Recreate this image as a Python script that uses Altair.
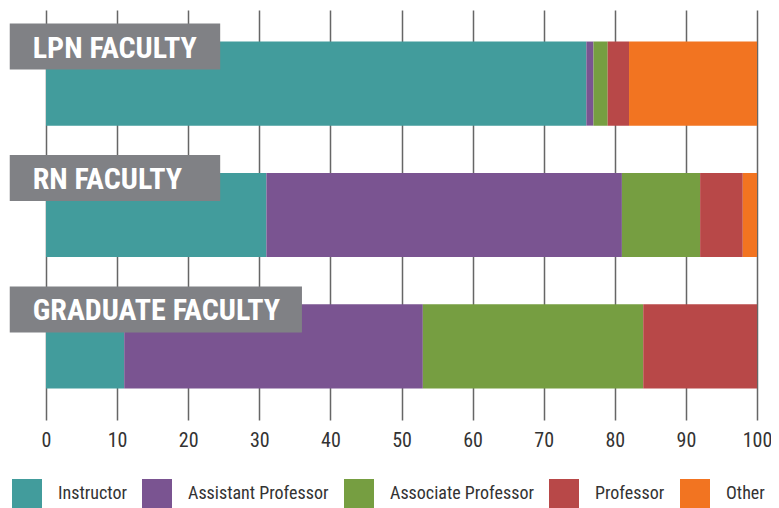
import altair as alt
import pandas as pd

groups = ["LPN FACULTY", "RN FACULTY", "GRADUATE FACULTY"]
ranks = ["Instructor", "Assistant Professor", "Associate Professor", "Professor", "Other"]
instructor = [76, 31, 11]
assistant = [1, 50, 42]
associate = [2, 11, 31]
professor = [3, 6, 16]
other = [18, 2, 0]
colors = ["#429C9C", "#7A5491", "#769E41", "#B84848", "#F27421"]
label_start = [-5.1, -5.1, -5.1]
label_end = [24.5, 24.5, 36.0]
ticks = [0, 10, 20, 30, 40, 50, 60, 70, 80, 90, 100]

series = [instructor, assistant, associate, professor, other]
rows = []
for gi, g in enumerate(groups):
    for ri, r in enumerate(ranks):
        rows.append({"group": g, "rank": r, "value": series[ri][gi], "order": ri})
df = pd.DataFrame(rows)
lab = pd.DataFrame({"group": groups, "x0": label_start, "x1": label_end})

FONT = "Roboto Condensed, Liberation Sans Narrow, DejaVu Sans Condensed, Roboto"

yenc = alt.Y("group:N", sort=groups, axis=None,
             scale=alt.Scale(paddingInner=0.36, paddingOuter=0.24))

bars = alt.Chart(df).mark_bar().encode(
    x=alt.X("value:Q", stack="zero",
            scale=alt.Scale(domain=[0, 100], nice=False),
            axis=alt.Axis(values=ticks, title=None, grid=True, domain=False, ticks=False,
                          labelFont=FONT, labelFontSize=20, labelColor="#333333",
                          labelFlush=False, labelPadding=10,
                          gridColor="#666666", gridWidth=1.5)),
    y=yenc,
    color=alt.Color("rank:N", sort=ranks,
                    scale=alt.Scale(domain=ranks, range=colors),
                    legend=alt.Legend(title=None, orient="none", legendX=-34, legendY=469,
                                      direction="horizontal", columns=5,
                                      symbolType="square", symbolSize=900,
                                      symbolStrokeWidth=0, symbolOpacity=1,
                                      labelFont=FONT, labelFontSize=18,
                                      labelColor="#333333", labelOffset=16,
                                      columnPadding=15, labelLimit=300)),
    order=alt.Order("order:Q"),
)

boxes = alt.Chart(lab).mark_bar(height=46, yOffset=-37, color="#808185").encode(
    x="x0:Q", x2="x1:Q", y=yenc,
)

texts = alt.Chart(lab).mark_text(align="left", baseline="middle", dx=23, yOffset=-35,
                                 font=FONT, fontSize=30, fontWeight="bold",
                                 color="white").encode(
    x="x0:Q", y=yenc, text="group:N",
)

chart = alt.layer(bars, boxes, texts).properties(
    width=711, height=410,
    autosize=alt.AutoSizeParams(type="none"),
    padding={"left": 38, "top": 2, "right": 14, "bottom": 88},
).configure_view(stroke=None)

chart.save("out.html", embed_options={"renderer": "svg", "actions": False})
